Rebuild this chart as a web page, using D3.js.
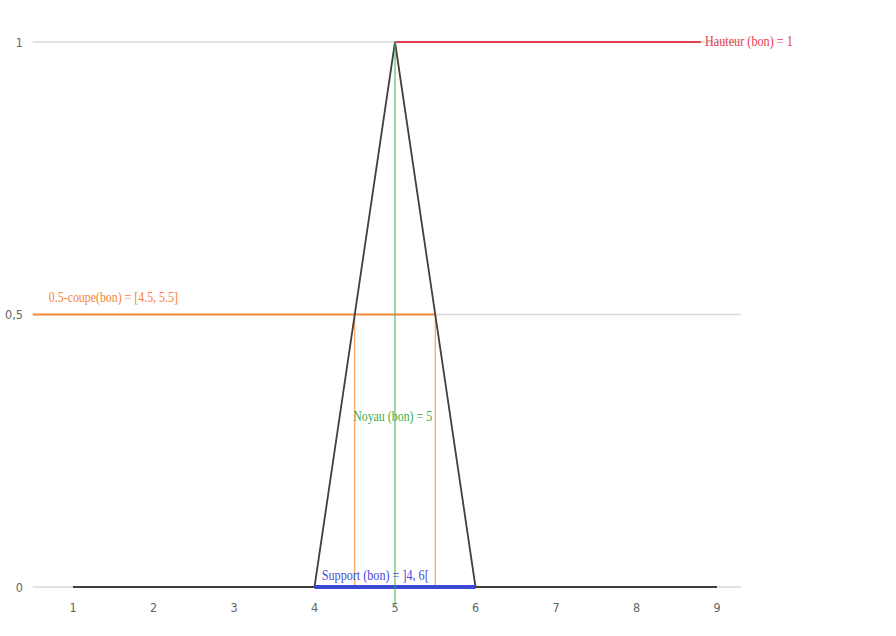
<!DOCTYPE html>
<html>
<head>
<meta charset="utf-8">
<script src="https://cdn.jsdelivr.net/npm/d3@7"></script>
<style>
  body { margin: 0; background: #fff; }
</style>
</head>
<body>
<div id="chart"></div>
<script>
// Fonction d'appartenance triangulaire "bon"
const membershipX = [1, 4, 5, 6, 9];
const membershipY = [0, 0, 1, 0, 0];

const xTicks = [1, 2, 3, 4, 5, 6, 7, 8, 9];
const yTicks = [0, 0.5, 1];
const yTickLabels = ['0', '0,5', '1'];

// Hauteur, coupe, noyau, support
const hauteurX = [5, 8.8];
const hauteurY = [1, 1];
const coupeX = [0.5, 5.5];
const coupeLevel = 0.5;
const coupeBounds = [4.5, 5.5];
const noyauX = 5;
const noyauY = [1, -0.035];
const supportX = [4, 6];

const labels = [
  { text: 'Hauteur (bon) = 1', x: 8.85, y: 1, dy: 4, color: '#e5404f', len: 88 },
  { text: '0.5-coupe(bon) = [4.5, 5.5]', x: 0.7, y: 0.5, dy: -13, color: '#f5813a', len: 129 },
  { text: 'Noyau (bon) = 5', x: 4.48, y: 0.31, dy: 3, color: '#3fae4a', len: 79 },
  { text: 'Support (bon) = ]4, 6[', x: 4.09, y: 0, dy: -7, color: '#4848d8', len: 107 }
];

const width = 896;
const height = 636;

const x = d3.scaleLinear().domain([1, 9]).range([73, 717]);
const y = d3.scaleLinear().domain([0, 1]).range([587, 42]);

const svg = d3.select('#chart')
  .append('svg')
  .attr('width', width)
  .attr('height', height);

// Grid lines
svg.append('g')
  .selectAll('line')
  .data(yTicks)
  .enter()
  .append('line')
  .attr('x1', x(0.5))
  .attr('x2', x(9.3))
  .attr('y1', d => y(d))
  .attr('y2', d => y(d))
  .attr('stroke', '#d9d9d9')
  .attr('stroke-width', 1.3);

// Y axis labels
svg.append('g')
  .selectAll('text')
  .data(yTicks)
  .enter()
  .append('text')
  .attr('x', 23)
  .attr('y', d => y(d) + 4.5)
  .attr('text-anchor', 'end')
  .attr('font-family', '"DejaVu Sans Condensed", "DejaVu Sans", sans-serif')
  .attr('font-stretch', 'condensed')
  .attr('font-size', '12.5px')
  .attr('fill', '#666')
  .text((d, i) => yTickLabels[i]);

// X axis labels
svg.append('g')
  .selectAll('text')
  .data(xTicks)
  .enter()
  .append('text')
  .attr('x', d => x(d))
  .attr('y', 612)
  .attr('text-anchor', 'middle')
  .attr('font-family', '"DejaVu Sans Condensed", "DejaVu Sans", sans-serif')
  .attr('font-stretch', 'condensed')
  .attr('font-size', '12.5px')
  .attr('fill', '#666')
  .text(d => d);

const line = d3.line().x(d => x(d[0])).y(d => y(d[1]));

// Orange vertical lines (0.5-coupe bornes)
svg.append('g')
  .selectAll('line')
  .data(coupeBounds)
  .enter()
  .append('line')
  .attr('x1', d => x(d))
  .attr('x2', d => x(d))
  .attr('y1', y(coupeLevel))
  .attr('y2', y(0))
  .attr('stroke', '#f5913f')
  .attr('stroke-width', 1);

// Orange horizontal 0.5-coupe
svg.append('path')
  .attr('d', line(coupeX.map(v => [v, coupeLevel])))
  .attr('fill', 'none')
  .attr('stroke', '#fb8a37')
  .attr('stroke-width', 2);

// Membership function
svg.append('path')
  .attr('d', line(membershipX.map((v, i) => [v, membershipY[i]])))
  .attr('fill', 'none')
  .attr('stroke', '#404040')
  .attr('stroke-width', 1.8)
  .attr('stroke-linejoin', 'miter');

// Red hauteur line
svg.append('path')
  .attr('d', line(hauteurX.map((v, i) => [v, hauteurY[i]])))
  .attr('fill', 'none')
  .attr('stroke', '#e5404f')
  .attr('stroke-width', 2);

// Blue support
svg.append('path')
  .attr('d', line(supportX.map(v => [v, 0])))
  .attr('fill', 'none')
  .attr('stroke', '#3a48d4')
  .attr('stroke-width', 4);

// Green noyau
svg.append('path')
  .attr('d', line(noyauY.map(v => [noyauX, v])))
  .attr('fill', 'none')
  .attr('stroke', '#3fae4a')
  .attr('stroke-width', 1);

// Labels
svg.append('g')
  .selectAll('text')
  .data(labels)
  .enter()
  .append('text')
  .attr('x', d => x(d.x))
  .attr('y', d => y(d.y) + d.dy)
  .attr('font-family', '"Liberation Serif", "DejaVu Serif", serif')
  .attr('font-size', '15.5px')
  .attr('fill', d => d.color)
  .attr('textLength', d => d.len)
  .attr('lengthAdjust', 'spacingAndGlyphs')
  .text(d => d.text);
</script>
</body>
</html>
